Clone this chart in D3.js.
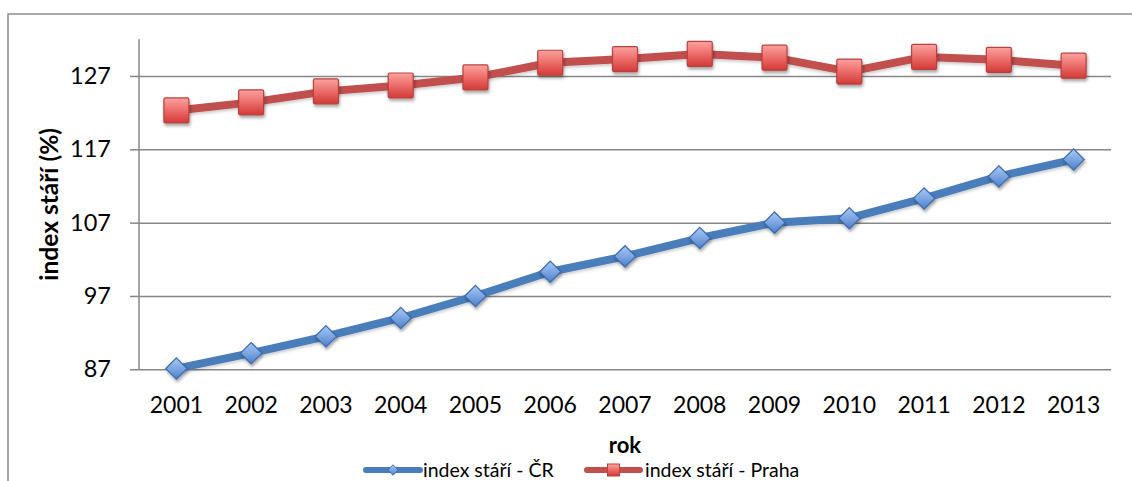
<!DOCTYPE html>
<html>
<head>
<meta charset="utf-8">
<script src="https://cdn.jsdelivr.net/npm/d3@7"></script>
<style>
  html, body { margin: 0; padding: 0; background: #fff; }
  svg { display: block; }
  text { font-family: Lato, "Open Sans", sans-serif; fill: #000; }
</style>
</head>
<body>
<svg id="chart" width="1132" height="481"></svg>
<script>
const years = ["2001","2002","2003","2004","2005","2006","2007","2008","2009","2010","2011","2012","2013"];
const valuesCR = [87.1, 89.2, 91.5, 94.0, 97.0, 100.3, 102.4, 104.9, 107.0, 107.6, 110.3, 113.3, 115.6];
const valuesPraha = [122.3, 123.4, 124.9, 125.7, 126.8, 128.8, 129.3, 130.0, 129.5, 127.6, 129.6, 129.2, 128.4];
const yTicks = [87, 97, 107, 117, 127];
const yDomain = [87, 132];
const seriesNames = ["index stáří - ČR", "index stáří - Praha"];
const yTitle = "index stáří (%)";
const xTitle = "rok";

const svg = d3.select("#chart");
const plot = { left: 139, right: 1111, top: 39.3, bottom: 369.3 };

const x = d3.scaleBand().domain(years).range([plot.left, plot.right]).padding(0);
const xc = d => x(d) + x.bandwidth() / 2;
const y = d3.scaleLinear().domain(yDomain).range([plot.bottom, plot.top]);

const defs = svg.append("defs");
const sh = defs.append("filter").attr("id", "shadow").attr("x", "-50%").attr("y", "-50%").attr("width", "200%").attr("height", "200%");
sh.append("feDropShadow").attr("dx", 1).attr("dy", 2.5).attr("stdDeviation", 1.6).attr("flood-color", "#000").attr("flood-opacity", 0.35);
const lsh = defs.append("filter").attr("id", "lshadow").attr("x", "-10%").attr("y", "-50%").attr("width", "120%").attr("height", "200%");
lsh.append("feDropShadow").attr("dx", 0).attr("dy", 2).attr("stdDeviation", 1.5).attr("flood-color", "#000").attr("flood-opacity", 0.2);

const gRed = defs.append("linearGradient").attr("id", "gRed").attr("x1", 0).attr("y1", 0).attr("x2", 0).attr("y2", 1);
gRed.append("stop").attr("offset", "0%").attr("stop-color", "#FBA3A0");
gRed.append("stop").attr("offset", "50%").attr("stop-color", "#EC6C69");
gRed.append("stop").attr("offset", "100%").attr("stop-color", "#D23A37");
const gBlue = defs.append("linearGradient").attr("id", "gBlue").attr("x1", 0).attr("y1", 0).attr("x2", 0).attr("y2", 1);
gBlue.append("stop").attr("offset", "0%").attr("stop-color", "#A9C8F2");
gBlue.append("stop").attr("offset", "50%").attr("stop-color", "#7CA6E2");
gBlue.append("stop").attr("offset", "100%").attr("stop-color", "#4C7FC8");

// outer frame (extends beyond right/bottom edges)
svg.append("rect").attr("x", 8).attr("y", 14).attr("width", 1140).attr("height", 480)
  .attr("fill", "none").attr("stroke", "#8C8C8C").attr("stroke-width", 1.5);

// gridlines
const yAxis = d3.axisLeft(y).tickValues(yTicks).tickSize(plot.right - plot.left).tickSizeOuter(0).tickPadding(0).tickFormat("");
const grid = svg.append("g").attr("transform", `translate(${plot.right},0)`).call(yAxis);
grid.select(".domain").remove();
grid.selectAll(".tick line").attr("stroke", "#878787").attr("stroke-width", 1.5);

// y axis with ticks and labels
const yAxis2 = d3.axisLeft(y).tickValues(yTicks).tickSize(9).tickSizeOuter(0).tickPadding(20).tickFormat(d3.format("d"));
const ya = svg.append("g").attr("transform", `translate(${plot.left},0)`).call(yAxis2);
ya.select(".domain").attr("stroke", "#878787").attr("stroke-width", 1.5).attr("d", `M0,${plot.top}V${plot.bottom}`);
ya.selectAll(".tick line").attr("stroke", "#878787").attr("stroke-width", 1.5);
ya.selectAll(".tick text").attr("font-family", "Lato, sans-serif").attr("font-size", 23.5).attr("fill", "#000").attr("x", -28);

// x axis labels
const xAxis = d3.axisBottom(x).tickSize(0).tickPadding(27).tickSizeOuter(0);
const xa = svg.append("g").attr("transform", `translate(0,${plot.bottom})`).call(xAxis);
xa.select(".domain").remove();
xa.selectAll(".tick text").attr("font-family", "Lato, sans-serif").attr("font-size", 23).attr("fill", "#000");

// titles
svg.append("text").attr("transform", `translate(58,${(plot.top + plot.bottom) / 2}) rotate(-90)`)
  .attr("text-anchor", "middle").attr("font-size", 24.5).attr("font-weight", "bold").text(yTitle);
svg.append("text").attr("x", (plot.left + plot.right) / 2).attr("y", 453)
  .attr("text-anchor", "middle").attr("font-size", 22).attr("font-weight", "bold").text(xTitle);

const line = d3.line().x((d, i) => xc(years[i])).y(d => y(d));

function drawSeries(vals, color, shape, gradId, border) {
  svg.append("path").datum(vals).attr("d", line).attr("fill", "none")
    .attr("stroke", color).attr("stroke-width", 8).attr("stroke-linejoin", "round").attr("filter", "url(#lshadow)");
  const g = svg.append("g");
  if (shape === "square") {
    g.selectAll("rect").data(vals).join("rect")
      .attr("x", (d, i) => xc(years[i]) - 12.5).attr("y", d => y(d) - 12.5)
      .attr("width", 25).attr("height", 25).attr("rx", 1.5)
      .attr("fill", `url(#${gradId})`).attr("stroke", border).attr("stroke-width", 1.2)
      .attr("filter", "url(#shadow)");
  } else {
    const s = d3.symbol().type(d3.symbolDiamond2).size(290);
    g.selectAll("path").data(vals).join("path")
      .attr("d", s).attr("transform", (d, i) => `translate(${xc(years[i])},${y(d)})`)
      .attr("fill", `url(#${gradId})`).attr("stroke", border).attr("stroke-width", 1.2)
      .attr("filter", "url(#shadow)");
  }
}
drawSeries(valuesCR, "#4A7EBB", "diamond", "gBlue", "#3A6AAD");
drawSeries(valuesPraha, "#C0504D", "square", "gRed", "#B8403D");

// legend
const legend = [
  { name: seriesNames[0], color: "#4A7EBB", shape: "diamond", grad: "gBlue", border: "#3A6AAD", x0: 366, x1: 420, tx: 423 },
  { name: seriesNames[1], color: "#C0504D", shape: "square", grad: "gRed", border: "#B8403D", x0: 587, x1: 640, tx: 645 }
];
const ly = 470;
legend.forEach(l => {
  svg.append("line").attr("x1", l.x0).attr("x2", l.x1).attr("y1", ly).attr("y2", ly)
    .attr("stroke", l.color).attr("stroke-width", 6).attr("stroke-linecap", "round");
  const cx = (l.x0 + l.x1) / 2;
  if (l.shape === "square") {
    svg.append("rect").attr("x", cx - 6).attr("y", ly - 6).attr("width", 12).attr("height", 12)
      .attr("fill", `url(#${l.grad})`).attr("stroke", l.border).attr("stroke-width", 1);
  } else {
    svg.append("path").attr("d", d3.symbol().type(d3.symbolDiamond2).size(70)())
      .attr("transform", `translate(${cx},${ly})`)
      .attr("fill", `url(#${l.grad})`).attr("stroke", l.border).attr("stroke-width", 1);
  }
  svg.append("text").attr("x", l.tx).attr("y", 477).attr("font-size", 19.5).text(l.name);
});
</script>
</body>
</html>
